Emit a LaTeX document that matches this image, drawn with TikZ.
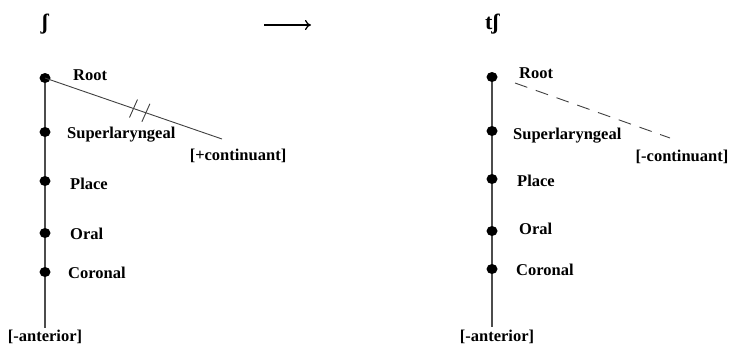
\documentclass[tikz,border=0pt]{standalone}
\usepackage{fontspec}
\setmainfont{Liberation Serif}
\usetikzlibrary{arrows.meta,shapes.geometric}
\begin{document}
\begin{tikzpicture}[x=1pt,y=-1pt,
  dot/.style={ellipse,fill=black,inner sep=0pt,minimum width=11pt,minimum height=10pt},
  lbl/.style={anchor=west,inner sep=0pt,font=\fontsize{16.5}{18}\selectfont\bfseries},
  feat/.style={inner sep=0pt,font=\fontsize{16.5}{18}\selectfont\bfseries},
  seg/.style={inner sep=0pt,font=\fontsize{22}{24}\selectfont\bfseries},
  tier/.style={draw=black!70,line width=1.4pt},
  assoc/.style={draw=black!75,line width=0.9pt}]
\useasboundingbox (0,0) rectangle (735,348);

% segments and the rule arrow
\node[seg] (s1) at (45,24) {ʃ};
\node[seg] (s2) at (492,24) {tʃ};
\coordinate (a1) at (264,25);
\coordinate (a2) at (311,25);
\draw[line width=1.2pt,-{To[length=6pt,width=10pt]}] (a1) -- (a2);

% left tree: fricative
\coordinate (L0) at (45,78);
\coordinate (L1) at (45,132);
\coordinate (L2) at (45,181);
\coordinate (L3) at (45,233);
\coordinate (L4) at (45,272);
\coordinate (L5) at (45,328);
\draw[tier] (L0) -- (L5);
\foreach \n in {L0,L1,L2,L3,L4} \node[dot] at (\n) {};
\node[lbl] (lroot) at (73,75) {Root};
\node[lbl] (lsup) at (67,135) {Superlaryngeal};
\node[lbl] (lpl) at (70,184) {Place};
\node[lbl] (lor) at (70,234) {Oral};
\node[lbl] (lcor) at (68,273) {Coronal};
\node[feat] (lant) at (45,337) {[-anterior]};
\node[feat] (lcont) at (238,156) {[+continuant]};
\coordinate (Lc) at (222,139);
\draw[assoc] (L0) -- (Lc);
% delinking marks
\path (L0) -- (Lc) coordinate[pos=0.50] (x1) coordinate[pos=0.57] (x2);
\draw[assoc] ([shift={(-4,9)}]x1) -- ([shift={(4,-9)}]x1);
\draw[assoc] ([shift={(-4,9)}]x2) -- ([shift={(4,-9)}]x2);

% right tree: affricate
\coordinate (R0) at (492,77);
\coordinate (R1) at (492,131);
\coordinate (R2) at (492,179);
\coordinate (R3) at (492,231);
\coordinate (R4) at (492,269);
\coordinate (R5) at (492,327);
\draw[tier] (R0) -- (R5);
\foreach \n in {R0,R1,R2,R3,R4} \node[dot] at (\n) {};
\node[lbl] (rroot) at (519,73) {Root};
\node[lbl] (rsup) at (513,136) {Superlaryngeal};
\node[lbl] (rpl) at (517,181) {Place};
\node[lbl] (ror) at (519,229) {Oral};
\node[lbl] (rcor) at (516,270) {Coronal};
\node[feat] (rant) at (497,337) {[-anterior]};
\node[feat] (rcont) at (682,157) {[-continuant]};
\coordinate (Rd0) at (515,83);
\coordinate (Rd1) at (670,138);
\draw[assoc,dash pattern=on 13pt off 9pt] (Rd0) -- (Rd1);
\end{tikzpicture}
\end{document}
